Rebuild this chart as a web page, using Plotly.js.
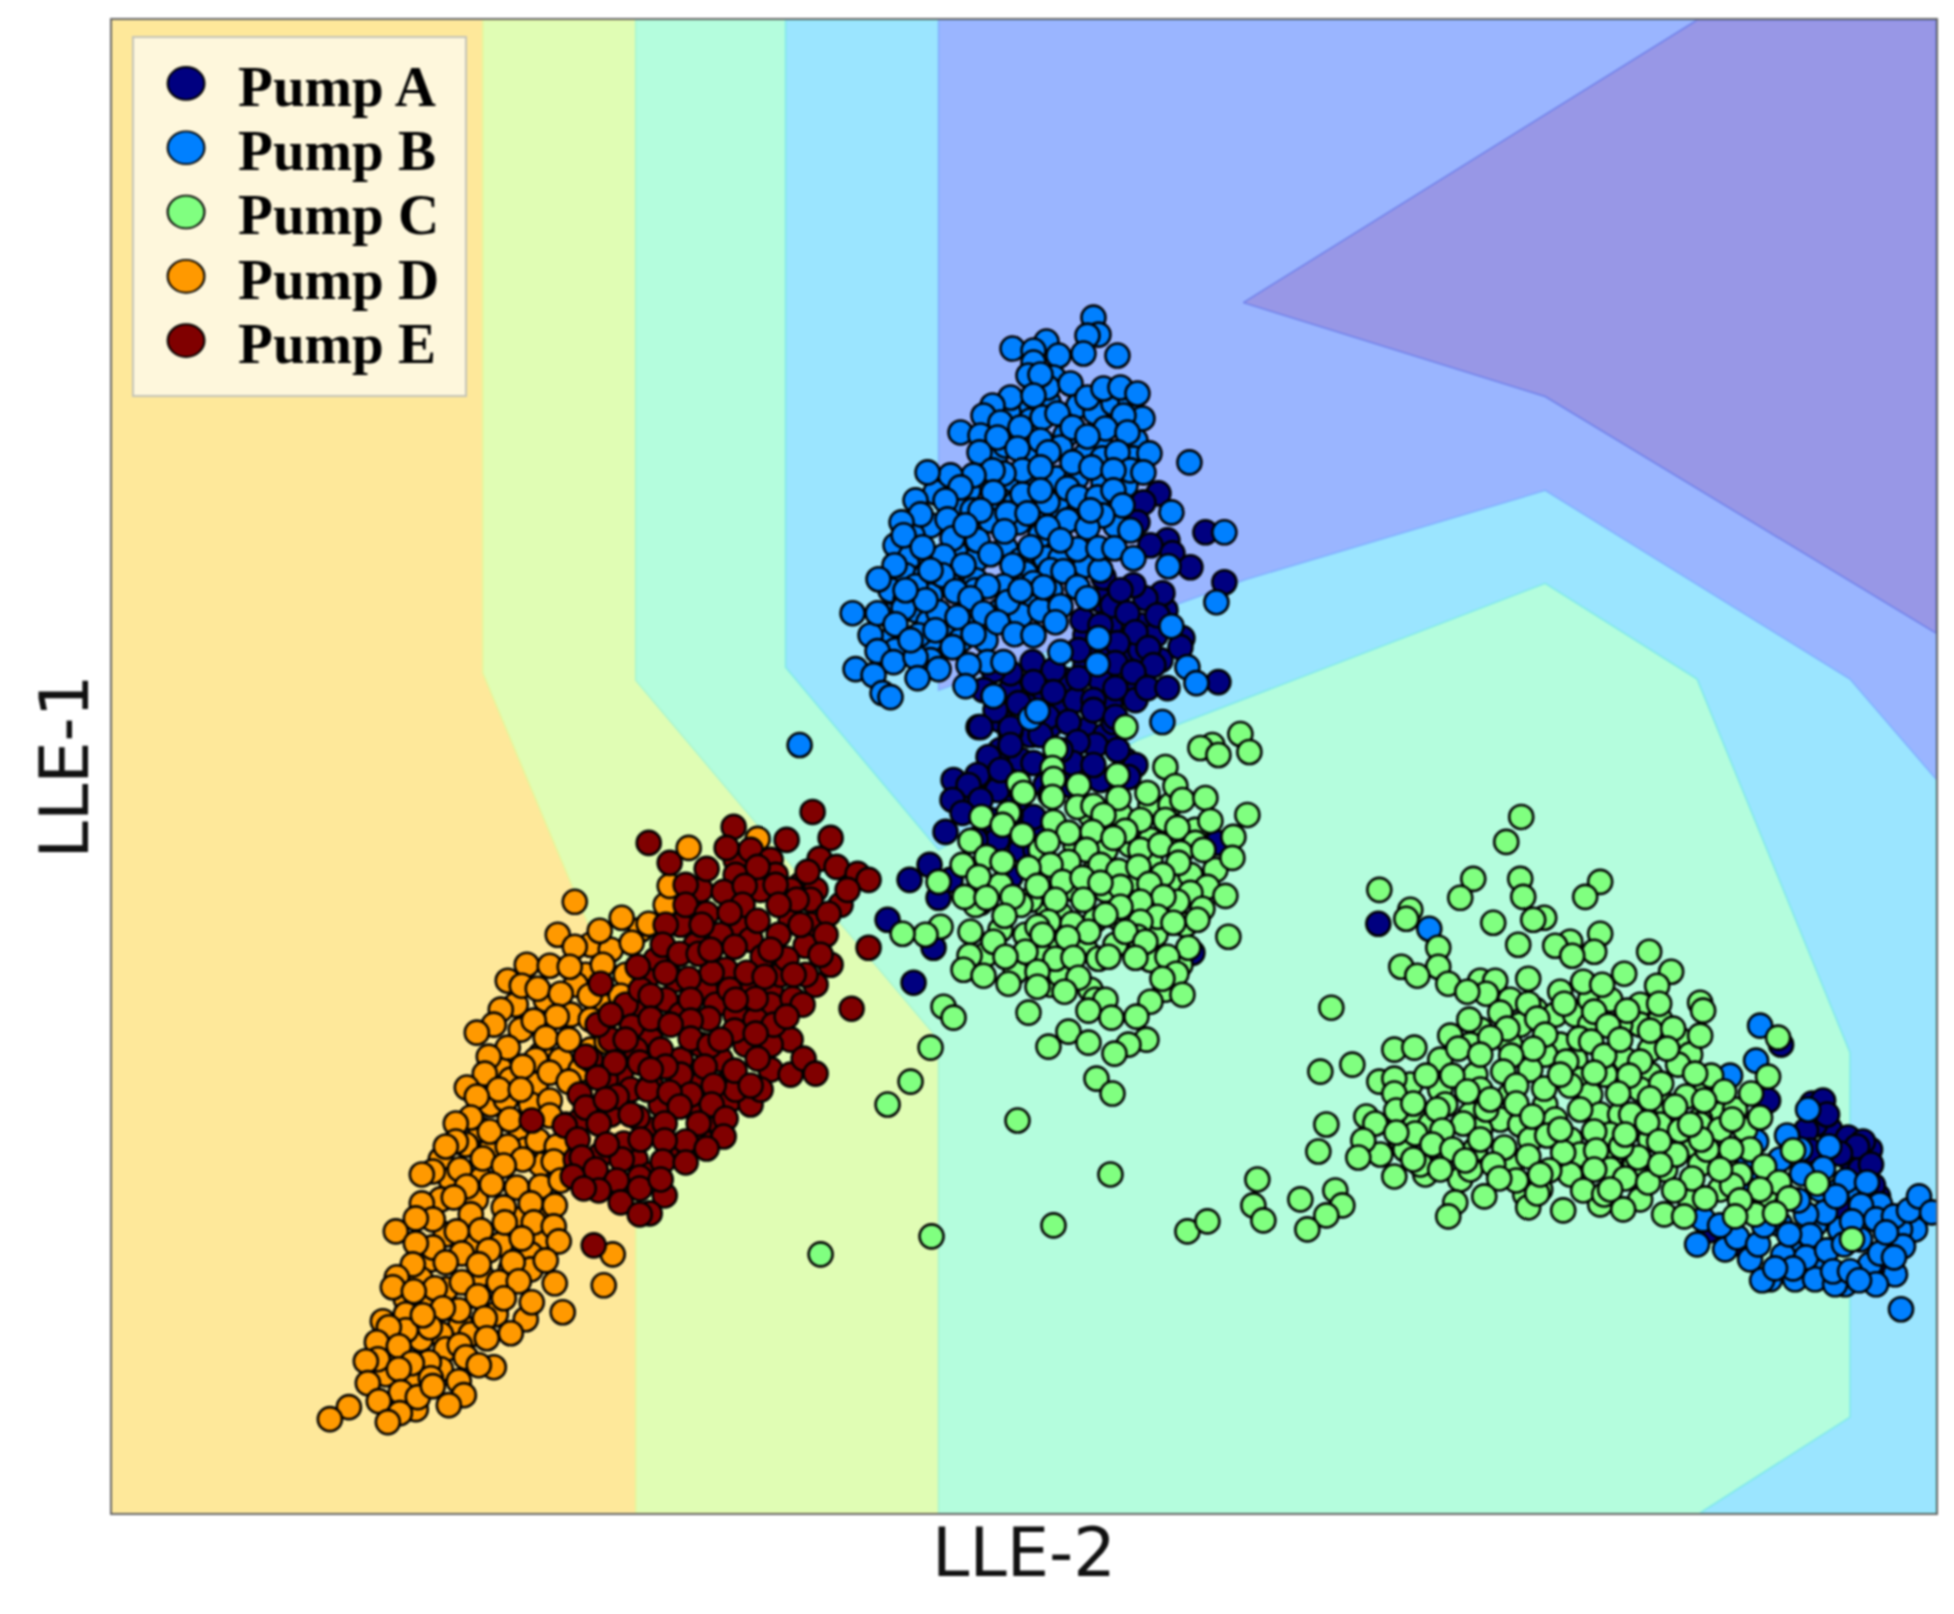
<!DOCTYPE html>
<html>
<head>
<meta charset="utf-8">
<script src="https://cdn.plot.ly/plotly-3.0.1.min.js"></script>
<style>
html,body{margin:0;padding:0;background:#fff;}
#chart{width:1954px;height:1614px;filter:blur(0.8px);}
</style>
</head>
<body>
<div id="chart"></div>
<script>
const seriesNames = ["Pump A","Pump B","Pump C","Pump D","Pump E"];
const seriesColors = ["#000080","#0080ff","#80ff80","#ff9900","#800000"];
const axisTitleX = "LLE-2";
const axisTitleY = "LLE-1";

const regionFill = ["#fee89a","#e0fdb4","#b4fddd","#9be5ff","#9ab5ff","#9897e6"];
const regionEdge = ["#fee89a","#e6f59a","#a8f5d0","#7fe8ea","#80b0ff","#6f80ea"];
const regionBase = [[111,19],[1936,19],[1936,1514],[111,1514]];
const regionYellow = [[482,19],[1936,19],[1936,1514],[635,1514],[635,1038],[572,888],[482,673]];
const regionMint = [[635,19],[1936,19],[1936,1514],[938,1514],[938,1040],[736,800],[635,680]];
const regionCyan = [[785,19],[1936,19],[1936,1514],[1700,1514],[1850,1418],[1850,1053],[1697,679],[1545,583],[1137,740],[938,850],[785,667]];
const regionBlue = [[938,19],[1936,19],[1936,779],[1850,679],[1545,490],[1246,579],[938,690]];
const regionPurple = [[1697,19],[1936,19],[1936,633],[1545,396],[1243,302]];

const pumpA = [[1850,1160],[1880,1210],[1860,1170],[1830,1130],[1815,1125],[1890,1225],[1870,1150],[1120,610],[1140,625],[1165,610],[1100,600],[1085,635],[1110,625],[1155,635],[1125,660],[1100,650],[1140,650],[1160,660],[1085,665],[1065,680],[1100,680],[1130,690],[1060,705],[1040,700],[1010,690],[1075,700],[1110,705],[1000,720],[1025,705],[1030,735],[1050,725],[1085,730],[1105,735],[1095,745],[1000,750],[1020,760],[1050,765],[1075,770],[1100,780],[985,775],[1000,790],[1015,805],[1045,785],[1070,785],[1125,760],[1135,765],[975,800],[990,820],[1015,830],[1040,835],[960,795],[1135,700],[1158,493],[1143,502],[1137,522],[1167,540],[1150,545],[1172,553],[1190,567],[1205,532],[1224,582],[1162,593],[1145,598],[1112,605],[1133,585],[1103,577],[1120,590],[1082,620],[1127,613],[1157,615],[1135,632],[1182,638],[1180,647],[1117,643],[1148,648],[1078,650],[1100,625],[1115,663],[1153,665],[1133,672],[1032,662],[1053,670],[1033,682],[1078,678],[1115,688],[1147,688],[1167,688],[1218,682],[1010,673],[993,670],[983,690],[1018,703],[1053,692],[1093,700],[1093,710],[1068,722],[978,727],[1010,732],[1113,722],[1047,717],[995,710],[980,727],[1010,728],[1068,722],[1093,710],[1115,717],[1010,745],[988,757],[1033,763],[1077,742],[1117,750],[1072,763],[1093,765],[1128,777],[953,780],[977,775],[968,785],[997,790],[952,800],[980,800],[962,813],[1033,817],[945,832],[997,840],[1020,850],[1035,850],[1217,843],[929,865],[909,880],[938,898],[950,880],[980,903],[887,920],[933,948],[913,983],[1192,953],[1010,877],[1000,770],[1040,735],[1060,750],[1020,790],[1050,795],[1010,815],[975,840],[1378,924],[1781,1045],[1768,1101],[1812,1104],[1823,1101],[1827,1115],[1806,1131],[1848,1138],[1863,1142],[1857,1147],[1871,1165],[1840,1154],[1878,1197],[1873,1186],[1844,1211],[1899,1235],[1880,1261],[1709,1231],[1810,1151],[1737,1244]];

const pumpB = [[1780,1160],[1800,1150],[1820,1190],[1780,1190],[1760,1170],[1840,1190],[1860,1195],[1880,1205],[1840,1230],[1815,1225],[1790,1250],[1820,1265],[1780,1225],[1750,1260],[1725,1250],[1770,1280],[1795,1280],[1860,1240],[1870,1265],[1895,1275],[1915,1230],[1900,1230],[1845,1285],[1815,1280],[1835,1285],[1020,405],[1048,402],[1078,405],[1095,412],[1113,403],[1130,402],[1008,412],[1030,420],[1065,435],[1100,445],[1135,440],[995,455],[1005,445],[1030,455],[1060,447],[1085,455],[1102,458],[1133,458],[1012,480],[1032,478],[1056,478],[1076,477],[1103,482],[1125,485],[985,482],[968,490],[935,492],[955,503],[972,510],[1000,500],[1015,503],[1035,512],[1057,505],[1085,508],[1110,505],[915,500],[930,525],[960,530],[990,520],[1018,522],[1040,535],[1058,530],[1078,512],[1115,525],[912,535],[895,545],[910,556],[930,560],[955,552],[975,560],[1005,548],[1020,560],[1045,558],[1060,558],[1085,565],[1100,570],[905,575],[925,575],[950,585],[975,580],[1025,573],[1050,570],[890,590],[905,600],[930,595],[975,590],[1015,585],[1025,600],[1050,590],[888,615],[915,610],[928,622],[945,630],[965,615],[1000,610],[1020,615],[1040,610],[890,640],[905,648],[930,640],[960,640],[985,640],[870,635],[895,650],[930,660],[1093,317],[1098,334],[1087,335],[1083,353],[1117,355],[1012,348],[1046,341],[1033,350],[1058,355],[1033,362],[1028,375],[1053,377],[1047,387],[1070,383],[1040,374],[1010,397],[992,405],[983,415],[1033,395],[1087,397],[1103,388],[1120,387],[1137,393],[1142,418],[1123,415],[1042,417],[1000,422],[1020,427],[1057,413],[1072,427],[1105,428],[1087,436],[1127,432],[960,432],[980,435],[997,437],[1040,440],[979,452],[1017,448],[1048,452],[1072,462],[1117,452],[1149,453],[1189,462],[1130,470],[1143,472],[1091,467],[1022,470],[1003,473],[992,470],[973,475],[950,475],[927,472],[1040,467],[1113,470],[960,487],[993,492],[1022,494],[1067,488],[1078,497],[1097,497],[1113,490],[1122,505],[1047,502],[980,510],[945,500],[920,514],[901,522],[947,519],[1007,513],[1027,513],[1067,520],[1102,515],[1171,512],[1224,532],[1130,530],[1047,527],[1004,531],[903,535],[952,538],[977,540],[1087,527],[1030,547],[1077,549],[1098,548],[1114,548],[1133,558],[990,554],[943,556],[922,547],[894,565],[878,579],[1168,566],[1063,571],[1012,565],[963,565],[942,575],[915,586],[1003,586],[987,586],[955,591],[1033,583],[1043,587],[1077,587],[1087,598],[1060,606],[1007,602],[970,598],[903,608],[877,613],[852,613],[938,612],[957,617],[983,613],[895,624],[1055,622],[997,622],[918,635],[973,634],[1014,634],[1033,635],[1171,626],[1098,638],[1216,602],[877,651],[952,647],[893,662],[915,657],[1060,652],[987,662],[1003,662],[968,665],[855,669],[873,675],[938,669],[917,678],[1097,664],[1187,667],[1196,683],[965,686],[993,696],[882,693],[890,697],[1030,718],[1037,711],[1162,722],[799,745],[925,600],[905,590],[930,570],[965,525],[1040,490],[1090,510],[1060,540],[1020,590],[910,640],[935,630],[1429,929],[1760,1026],[1756,1061],[1730,1076],[1808,1110],[1787,1136],[1756,1142],[1829,1147],[1823,1169],[1802,1174],[1846,1181],[1867,1183],[1861,1206],[1825,1213],[1806,1215],[1852,1222],[1876,1220],[1894,1217],[1909,1211],[1919,1197],[1932,1213],[1745,1161],[1703,1220],[1697,1245],[1737,1238],[1758,1245],[1764,1226],[1810,1236],[1783,1256],[1806,1258],[1827,1251],[1844,1245],[1880,1254],[1903,1247],[1894,1258],[1762,1281],[1793,1269],[1833,1272],[1850,1272],[1876,1285],[1859,1281],[1901,1310],[1775,1269],[1789,1235],[1720,1226],[1798,1201],[1836,1197],[1743,1194],[1886,1233]];

const pumpC = [[1040,850],[1075,845],[1105,850],[1130,845],[1150,840],[1170,840],[1195,830],[1090,815],[1120,815],[1150,805],[1170,805],[1095,870],[1130,880],[1150,860],[1170,885],[1190,875],[1215,870],[1105,890],[1075,890],[1045,905],[1060,915],[1030,900],[1000,885],[975,905],[1120,920],[1095,920],[1155,935],[1185,925],[1075,945],[1050,945],[1085,950],[1115,945],[1025,935],[1000,930],[985,955],[1015,972],[1050,985],[1090,990],[1060,975],[1040,955],[1150,960],[1180,965],[1165,990],[1020,905],[1095,1000],[1510,1000],[1535,1010],[1555,1015],[1575,1015],[1590,1000],[1610,1000],[1640,1005],[1640,1025],[1620,1025],[1660,1020],[1520,1025],[1480,1030],[1560,1045],[1590,1025],[1680,1040],[1440,1060],[1470,1045],[1510,1045],[1545,1055],[1575,1060],[1605,1075],[1625,1060],[1650,1050],[1690,1055],[1650,1075],[1530,1070],[1475,1075],[1440,1090],[1580,1080],[1700,1090],[1720,1115],[1410,1085],[1415,1120],[1480,1090],[1510,1095],[1545,1105],[1590,1095],[1640,1090],[1665,1105],[1700,1120],[1735,1110],[1445,1105],[1470,1115],[1555,1120],[1600,1115],[1620,1115],[1500,1120],[1430,1125],[1400,1140],[1405,1150],[1480,1130],[1520,1125],[1570,1140],[1610,1135],[1660,1125],[1700,1125],[1745,1130],[1720,1130],[1440,1150],[1475,1150],[1530,1140],[1580,1155],[1610,1160],[1650,1140],[1690,1145],[1725,1160],[1750,1150],[1380,1155],[1425,1175],[1460,1180],[1510,1165],[1540,1190],[1570,1175],[1610,1170],[1635,1165],[1665,1170],[1700,1165],[1740,1175],[1765,1195],[1525,1195],[1600,1205],[1640,1200],[1690,1200],[1720,1190],[1755,1215],[1470,1170],[1420,1165],[1125,727],[1055,749],[1240,734],[1212,745],[1200,748],[1218,755],[1249,752],[1165,767],[1117,775],[1052,768],[1053,779],[1078,785],[1018,783],[1023,793],[1175,786],[1182,800],[1147,793],[1118,798],[1205,798],[1052,797],[1077,807],[1093,806],[1247,815],[1008,813],[981,817],[1210,821],[1053,822],[1002,825],[1165,820],[1140,820],[1103,815],[1022,835],[1068,833],[1125,831],[1092,832],[970,841],[1233,837],[1047,842],[1177,828],[1195,843],[1086,850],[1140,850],[1160,845],[1113,838],[1180,853],[1203,850],[1232,858],[986,857],[1002,862],[962,865],[1068,862],[1100,865],[1118,871],[1050,865],[1028,868],[1178,863],[1138,867],[1162,875],[978,877],[938,882],[1062,882],[1037,886],[1082,878],[1149,884],[1120,887],[1100,883],[1207,887],[1190,893],[1225,896],[964,897],[986,898],[1012,897],[1055,900],[1083,900],[1177,902],[1163,897],[1140,902],[1120,907],[1202,909],[1004,916],[1105,915],[1157,917],[1048,922],[1072,924],[1140,922],[1197,920],[1173,923],[940,927],[970,932],[925,935],[902,934],[1137,937],[1228,937],[1088,932],[1037,927],[1042,935],[1067,938],[1125,932],[1145,942],[993,942],[1025,952],[1188,948],[969,956],[1005,957],[1055,959],[1073,958],[1098,959],[1108,957],[1135,958],[1167,957],[963,970],[1037,972],[983,976],[1078,978],[1176,974],[1162,979],[1008,984],[1037,987],[1064,992],[1182,995],[1105,1000],[1150,1002],[943,1007],[953,1018],[1028,1013],[1088,1011],[1111,1018],[1136,1017],[1068,1032],[1088,1043],[1146,1040],[1128,1045],[1114,1054],[1048,1047],[930,1048],[910,1082],[1096,1079],[1112,1094],[887,1105],[1017,1121],[1110,1175],[820,1255],[931,1237],[1053,1226],[1187,1232],[1207,1222],[1257,1180],[1253,1206],[1263,1221],[1521,817],[1506,842],[1379,890],[1473,879],[1460,898],[1520,879],[1523,897],[1600,882],[1585,897],[1410,910],[1406,919],[1493,923],[1544,918],[1533,920],[1600,934],[1570,942],[1555,946],[1518,945],[1594,952],[1572,956],[1649,952],[1438,948],[1401,967],[1438,967],[1417,976],[1448,984],[1671,972],[1480,981],[1495,981],[1486,994],[1528,979],[1560,992],[1583,982],[1624,974],[1602,985],[1657,986],[1467,992],[1700,1003],[1703,1011],[1331,1008],[1500,1013],[1469,1020],[1528,1004],[1564,1004],[1594,1012],[1627,1011],[1659,1004],[1507,1029],[1537,1019],[1545,1035],[1579,1039],[1608,1026],[1650,1031],[1673,1029],[1700,1036],[1778,1038],[1394,1050],[1414,1048],[1450,1036],[1458,1049],[1490,1038],[1480,1055],[1533,1049],[1591,1042],[1352,1065],[1320,1072],[1566,1062],[1604,1056],[1640,1062],[1678,1065],[1667,1049],[1511,1056],[1426,1076],[1452,1076],[1503,1072],[1594,1073],[1711,1076],[1768,1077],[1695,1074],[1629,1076],[1379,1082],[1394,1079],[1467,1092],[1544,1089],[1618,1094],[1661,1084],[1751,1094],[1724,1092],[1394,1094],[1516,1086],[1570,1086],[1686,1097],[1437,1110],[1396,1111],[1413,1104],[1486,1110],[1516,1104],[1532,1117],[1580,1110],[1675,1107],[1704,1101],[1650,1099],[1760,1118],[1732,1120],[1366,1117],[1326,1125],[1375,1124],[1463,1124],[1631,1115],[1647,1123],[1680,1131],[1594,1132],[1547,1136],[1415,1134],[1396,1133],[1442,1131],[1363,1141],[1318,1152],[1358,1158],[1432,1145],[1452,1150],[1504,1148],[1528,1157],[1563,1153],[1596,1151],[1638,1158],[1676,1155],[1707,1150],[1731,1150],[1793,1151],[1621,1147],[1659,1142],[1701,1140],[1413,1160],[1394,1177],[1440,1170],[1465,1161],[1493,1165],[1549,1171],[1594,1170],[1764,1167],[1516,1181],[1499,1179],[1625,1179],[1648,1183],[1692,1179],[1732,1186],[1779,1183],[1817,1184],[1760,1190],[1335,1191],[1484,1197],[1455,1203],[1583,1191],[1674,1191],[1705,1199],[1740,1201],[1789,1199],[1300,1200],[1342,1206],[1326,1216],[1528,1208],[1563,1211],[1623,1210],[1664,1215],[1684,1217],[1735,1217],[1775,1214],[1448,1217],[1307,1230],[1852,1240],[1537,1194],[1604,1195],[1560,1075],[1620,1040],[1490,1100],[1560,1130],[1625,1135],[1480,1140],[1540,1175],[1610,1190],[1660,1165],[1720,1170],[1690,1125]];

const pumpD = [[590,945],[610,950],[640,930],[585,975],[575,985],[600,1005],[640,980],[545,1000],[570,1015],[590,1020],[520,1030],[515,1005],[500,1010],[540,1055],[560,1060],[590,1050],[580,1070],[500,1070],[510,1080],[535,1085],[530,1105],[490,1105],[505,1100],[480,1130],[520,1135],[540,1165],[565,1125],[440,1160],[465,1145],[490,1150],[525,1150],[480,1180],[450,1180],[475,1200],[520,1220],[545,1215],[440,1200],[470,1215],[445,1235],[500,1245],[540,1240],[430,1260],[470,1245],[530,1255],[420,1280],[445,1290],[480,1275],[510,1270],[530,1270],[405,1300],[430,1305],[460,1325],[440,1335],[405,1315],[390,1345],[420,1340],[445,1350],[410,1380],[385,1375],[440,1370],[415,1410],[470,1335],[495,1315],[525,1320],[400,1360],[574,902],[621,918],[599,931],[557,935],[574,947],[631,943],[648,924],[665,905],[526,965],[549,966],[569,967],[602,965],[507,981],[521,986],[537,989],[625,975],[560,994],[589,996],[620,996],[637,1002],[556,1017],[533,1021],[493,1025],[476,1033],[507,1048],[545,1038],[568,1040],[606,1042],[488,1057],[535,1060],[522,1067],[549,1073],[484,1074],[466,1088],[498,1090],[520,1090],[568,1082],[476,1097],[549,1101],[470,1118],[489,1132],[455,1124],[455,1142],[509,1120],[537,1141],[549,1116],[507,1147],[482,1159],[445,1147],[522,1160],[556,1147],[432,1172],[421,1175],[459,1170],[503,1166],[553,1162],[466,1187],[491,1185],[516,1188],[540,1187],[560,1181],[453,1198],[421,1204],[503,1208],[530,1204],[554,1206],[432,1220],[415,1219],[480,1231],[456,1232],[504,1223],[533,1223],[553,1227],[395,1232],[432,1248],[415,1244],[521,1239],[558,1242],[461,1254],[488,1251],[612,1255],[412,1265],[545,1261],[512,1263],[478,1265],[445,1263],[396,1278],[498,1283],[461,1283],[434,1289],[554,1284],[603,1286],[518,1282],[392,1288],[413,1292],[477,1297],[503,1299],[531,1303],[562,1313],[458,1311],[442,1309],[484,1319],[429,1328],[405,1331],[510,1334],[382,1322],[422,1316],[388,1328],[376,1343],[398,1347],[459,1346],[486,1339],[377,1360],[365,1362],[428,1363],[411,1364],[465,1358],[493,1368],[478,1366],[398,1370],[430,1379],[458,1382],[367,1384],[400,1393],[417,1398],[432,1387],[378,1402],[463,1396],[448,1406],[348,1408],[329,1420],[399,1414],[387,1423],[688,848],[757,839],[669,886]];

const pumpE = [[735,860],[750,850],[770,860],[800,885],[790,890],[735,875],[775,875],[815,890],[640,1010],[625,1005],[655,960],[645,980],[720,1110],[700,1085],[830,965],[815,985],[700,890],[760,890],[775,885],[790,920],[810,900],[840,905],[810,925],[735,925],[680,925],[665,925],[720,935],[750,940],[695,945],[675,980],[705,990],[725,970],[745,990],[770,990],[805,975],[780,975],[640,990],[665,1000],[715,1005],[770,1005],[735,1015],[755,1020],[790,1040],[770,1045],[720,1060],[745,1045],[680,1015],[650,1040],[680,1060],[610,1040],[635,1050],[620,1075],[650,1085],[680,1075],[700,1045],[725,1085],[770,1070],[790,1075],[590,1060],[605,1080],[630,1090],[660,1105],[695,1110],[730,1100],[750,1105],[610,1115],[650,1130],[700,1140],[580,1120],[600,1155],[635,1160],[670,1150],[650,1175],[620,1185],[575,1160],[720,1125],[735,1090],[760,1090],[648,843],[733,827],[786,840],[830,838],[812,812],[669,863],[706,869],[726,848],[757,867],[819,859],[685,885],[723,892],[744,886],[807,872],[836,867],[857,874],[868,880],[685,905],[742,905],[796,900],[828,914],[847,890],[778,905],[706,914],[701,925],[757,921],[729,913],[805,946],[825,935],[868,948],[662,945],[734,947],[778,935],[679,954],[762,957],[820,955],[637,967],[711,973],[665,973],[698,954],[746,973],[786,959],[793,975],[600,984],[688,979],[764,977],[729,990],[650,996],[690,1000],[755,999],[792,999],[802,1005],[851,1009],[708,1019],[631,1027],[597,1025],[610,1015],[650,1019],[734,1031],[690,1021],[773,1025],[786,1017],[690,1039],[755,1034],[660,1050],[709,1046],[585,1057],[614,1063],[803,1059],[815,1074],[639,1063],[757,1059],[704,1067],[665,1067],[734,1071],[597,1078],[750,1086],[647,1090],[690,1095],[669,1093],[713,1086],[616,1097],[579,1095],[585,1108],[637,1118],[679,1107],[711,1105],[725,1119],[564,1126],[598,1124],[531,1121],[664,1124],[698,1124],[623,1144],[685,1142],[664,1141],[723,1137],[577,1140],[706,1149],[581,1158],[621,1160],[662,1162],[685,1163],[606,1145],[639,1178],[572,1177],[595,1170],[616,1181],[598,1191],[583,1189],[620,1203],[639,1189],[664,1196],[649,1214],[639,1215],[593,1246],[720,1040],[670,1025],[625,1040],[630,1115],[605,1100],[650,1070],[735,1000],[710,950],[770,950],[800,925],[640,1140],[660,1180]];

const seriesPoints = [pumpA,pumpB,pumpC,pumpD,pumpE];
const regions = [regionBase,regionYellow,regionMint,regionCyan,regionBlue,regionPurple];

const traces = [];
regions.forEach((r,i)=>{
  traces.push({
    x:r.map(p=>p[0]).concat(r[0][0]), y:r.map(p=>p[1]).concat(r[0][1]),
    type:'scatter', mode:'lines', fill:'toself', fillcolor:regionFill[i],
    line:{color:regionEdge[i],width:1.5}, hoverinfo:'skip', showlegend:false
  });
});
seriesPoints.forEach((s,i)=>{
  traces.push({
    x:s.map(p=>p[0]), y:s.map(p=>p[1]),
    type:'scatter', mode:'markers', name:seriesNames[i],
    marker:{size:24,color:seriesColors[i],line:{color:'#000',width:2.6}}
  });
});

const layout = {
  width:1954, height:1614,
  margin:{l:112,r:18,t:20,b:101,pad:0},
  paper_bgcolor:'#fff', plot_bgcolor:'#fff',
  showlegend:true,
  legend:{x:0.011,y:0.989,xanchor:'left',yanchor:'top',bgcolor:'#fef7dc',bordercolor:'#c4c4b8',borderwidth:2,
    itemwidth:94,tracegroupgap:0,
    font:{family:'"Liberation Serif",serif',size:57,weight:700,color:'#000'}},
  xaxis:{range:[111,1936],showgrid:false,zeroline:false,showticklabels:false,ticks:'',showline:true,mirror:true,linecolor:'#666',linewidth:2,
    title:{text:axisTitleX,font:{family:'"DejaVu Sans",sans-serif',size:67,color:'#111'},standoff:15}},
  yaxis:{range:[1514,19],showgrid:false,zeroline:false,showticklabels:false,ticks:'',showline:true,mirror:true,linecolor:'#666',linewidth:2,
    title:{text:axisTitleY,font:{family:'"DejaVu Sans",sans-serif',size:67,color:'#111'},standoff:0}}
};

Plotly.newPlot('chart',traces,layout,{displayModeBar:false}).then(()=>{
  // Enlarge the legend markers, which the library caps at a small size.
  document.querySelectorAll('.legend .legendpoints path').forEach(p=>{
    const t=p.getAttribute('transform')||'';
    p.setAttribute('transform',t+' scale(2.3,2.05)');
    p.style.strokeWidth='0.9px';
  });
  document.querySelectorAll('.legend .traces').forEach((g,i)=>{
    g.setAttribute('transform','translate(2,'+(47+i*64.3)+')');
  });
  const bg=document.querySelector('.legend .bg');
  if(bg){bg.setAttribute('width',333);bg.setAttribute('height',359);}
});
</script>
</body>
</html>
